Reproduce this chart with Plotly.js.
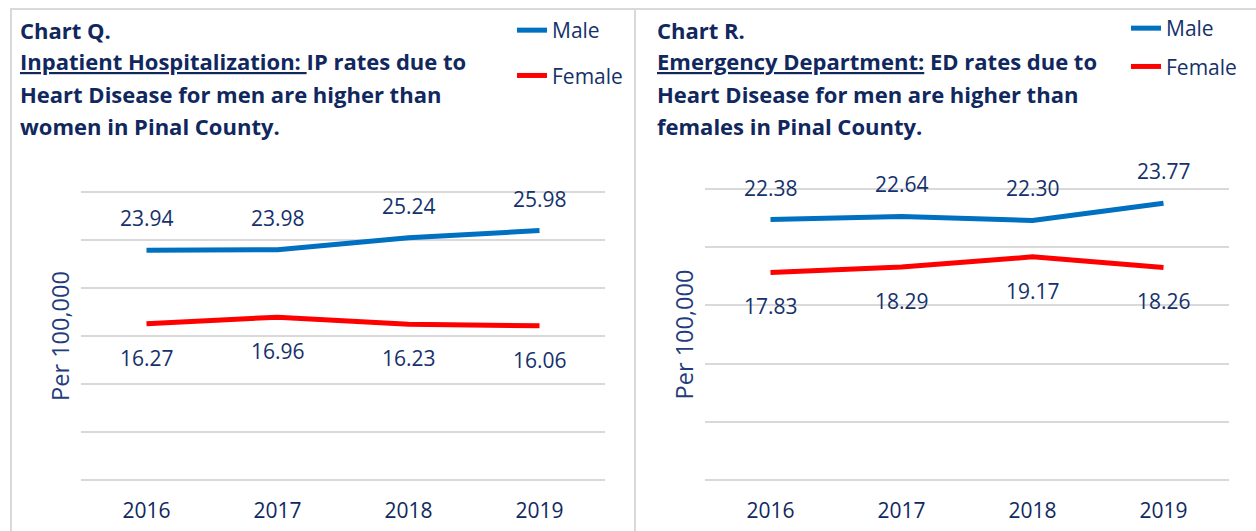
<!DOCTYPE html>
<html>
<head>
<meta charset="utf-8">
<script src="https://cdn.plot.ly/plotly-3.0.1.min.js"></script>
<style>html,body{margin:0;padding:0;background:#fff;}#chart{width:1256px;height:531px;}</style>
</head>
<body>
<div id="chart"></div>
<script>
// ---- data ----
const years = ['2016', '2017', '2018', '2019'];
const ipMale = [23.94, 23.98, 25.24, 25.98];
const ipFemale = [16.27, 16.96, 16.23, 16.06];
const edMale = [22.38, 22.64, 22.30, 23.77];
const edFemale = [17.83, 18.29, 19.17, 18.26];
const seriesNames = ['Male', 'Female'];

const titleQ = [
  'Chart Q.',
  '<span style="text-decoration:underline">Inpatient Hospitalization: </span>IP rates due to',
  'Heart Disease for men are higher than',
  'women in Pinal County.'
];
const titleR = [
  'Chart R.',
  '<span style="text-decoration:underline">Emergency Department:</span> ED rates due to',
  'Heart Disease for men are higher than',
  'females in Pinal County.'
];
const yTitle = 'Per 100,000';

// ---- styles ----
const W = 1256, H = 531;
const FONT = 'Open Sans, Liberation Sans, sans-serif';
const NAVY = '#10285e';
const LABEL = '#15316b';
const BLUE = '#0070c0';
const RED = '#ff0000';
const GRID = '#d9d9d9';

function px(x) { return x / W; }
function py(y) { return 1 - y / H; }

const traces = [
  {x: years, y: ipMale, name: seriesNames[0], mode: 'lines', line: {color: BLUE, width: 5}, xaxis: 'x', yaxis: 'y', legend: 'legend', legendgroup: 'a'},
  {x: years, y: ipFemale, name: seriesNames[1], mode: 'lines', line: {color: RED, width: 5}, xaxis: 'x', yaxis: 'y', legend: 'legend', legendgroup: 'b'},
  {x: years, y: edMale, name: seriesNames[0], mode: 'lines', line: {color: BLUE, width: 5}, xaxis: 'x2', yaxis: 'y2', legend: 'legend2', legendgroup: 'c'},
  {x: years, y: edFemale, name: seriesNames[1], mode: 'lines', line: {color: RED, width: 5}, xaxis: 'x2', yaxis: 'y2', legend: 'legend2', legendgroup: 'd'}
];

const annotations = [];
function addLabels(vals, xref, yref, shift) {
  vals.forEach((v, i) => {
    annotations.push({x: i, y: v, xref: xref, yref: yref, text: v.toFixed(2),
      showarrow: false, yshift: shift, xanchor: 'center', yanchor: 'middle',
      font: {family: FONT, size: 21, color: LABEL}});
  });
}
addLabels(ipMale, 'x', 'y', 32);
addLabels(ipFemale, 'x', 'y', -34);
addLabels(edMale, 'x2', 'y2', 32);
addLabels(edFemale, 'x2', 'y2', -34);

const lineY = [29.5, 61.5, 94, 126.5];
function addTitle(lines, x0) {
  lines.forEach((t, i) => {
    annotations.push({xref: 'paper', yref: 'paper', x: px(x0), y: py(lineY[i]), xanchor: 'left', yanchor: 'middle',
      text: t, showarrow: false, align: 'left',
      font: {family: FONT, size: 22, color: NAVY, weight: 'bold'}});
  });
}
addTitle(titleQ, 18);
addTitle(titleR, 655);

const xBase = {type: 'category', range: [-0.5, 3.5], showgrid: false, zeroline: false, showline: false, ticks: '',
  tickfont: {family: FONT, size: 21, color: NAVY}, ticklabelstandoff: 14, fixedrange: true};
const yBase = {showticklabels: false, ticks: '', showgrid: true, gridcolor: GRID, gridwidth: 2, zeroline: false, showline: false, dtick: 5, tick0: 0,
  title: {text: yTitle, font: {family: FONT, size: 23.5, color: '#1f3d7a'}, standoff: 3}, fixedrange: true};

// small padding so the end grid lines are drawn (9.6 px/unit left, 11.64 px/unit right)
const layout = {
  width: W, height: H,
  margin: {l: 0, r: 0, t: 0, b: 0},
  paper_bgcolor: '#ffffff', plot_bgcolor: '#ffffff',
  font: {family: FONT, color: NAVY},
  xaxis: Object.assign({}, xBase, {domain: [px(81), px(605)], anchor: 'y'}),
  yaxis: Object.assign({}, yBase, {domain: [py(481.92), py(190.08)], range: [-0.2, 30.2], anchor: 'x'}),
  xaxis2: Object.assign({}, xBase, {domain: [px(705), px(1229)], anchor: 'y2'}),
  yaxis2: Object.assign({}, yBase, {domain: [py(482.33), py(186.67)], range: [-0.2, 25.2], anchor: 'x2'}),
  legend: {x: px(512), y: py(10), xanchor: 'left', yanchor: 'top', traceorder: 'grouped', tracegroupgap: 15,
    font: {family: FONT, size: 21, color: LABEL}, bgcolor: 'rgba(0,0,0,0)'},
  legend2: {x: px(1126), y: py(8), xanchor: 'left', yanchor: 'top', traceorder: 'grouped', tracegroupgap: 8,
    font: {family: FONT, size: 21, color: LABEL}, bgcolor: 'rgba(0,0,0,0)'},
  showlegend: true,
  annotations: annotations,
  shapes: [
    {type: 'rect', xref: 'paper', yref: 'paper', x0: px(11), x1: px(635), y0: -0.05, y1: py(9), line: {color: GRID, width: 2}, layer: 'below'},
    {type: 'rect', xref: 'paper', yref: 'paper', x0: px(635), x1: 1.05, y0: -0.05, y1: py(9), line: {color: GRID, width: 2}, layer: 'below'}
  ]
};

Plotly.newPlot('chart', traces, layout, {displayModeBar: false, staticPlot: true});
</script>
</body>
</html>
